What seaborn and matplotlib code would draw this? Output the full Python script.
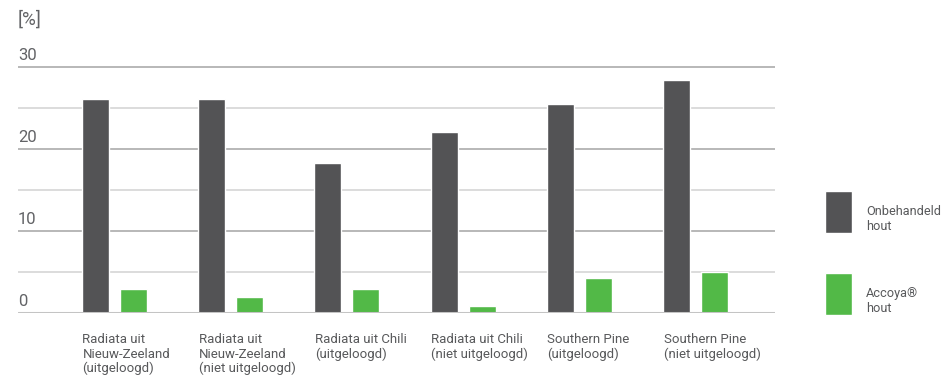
import matplotlib
matplotlib.use("Agg")
import matplotlib.pyplot as plt
from matplotlib.transforms import ScaledTranslation, blended_transform_factory
import seaborn as sns
import pandas as pd

categories = [
    "Radiata uit\nNieuw-Zeeland\n(uitgeloogd)",
    "Radiata uit\nNieuw-Zeeland\n(niet uitgeloogd)",
    "Radiata uit Chili\n(uitgeloogd)",
    "Radiata uit Chili\n(niet uitgeloogd)",
    "Southern Pine\n(uitgeloogd)",
    "Southern Pine\n(niet uitgeloogd)",
]
series_names = ["Onbehandeld\nhout", "Accoya®\nhout"]
onbehandeld = [26.1, 26.1, 18.3, 22.1, 25.5, 28.4]
accoya = [3.0, 2.0, 3.0, 0.9, 4.3, 5.0]
y_ticks = [0, 10, 20, 30]
y_unit = "[%]"

df = pd.DataFrame({
    "houtsoort": categories * 2,
    "waarde": onbehandeld + accoya,
    "behandeling": [series_names[0]] * len(categories) + [series_names[1]] * len(categories),
})

sns.set_theme(style="white")
plt.rcParams["font.family"] = ["Roboto", "DejaVu Sans"]

text_color = "#58595b"
dark = "#535355"
green = "#52b947"

fig = plt.figure(figsize=(9.47, 3.82), dpi=100)
W, H = 947, 382
ax = fig.add_axes([18 / W, 1 - 313.3 / H, (775 - 18) / W, 31 * 8.21 / H])

sns.barplot(data=df, x="houtsoort", y="waarde", hue="behandeling",
            palette=[dark, green], saturation=1, width=0.654, gap=0.29,
            ax=ax, zorder=3)

ax.set_xlim(-0.83, 5.684)
ax.set_ylim(0, 31)
for s in ax.spines.values():
    s.set_visible(False)

# horizontal guide lines: strong at every 10, light in between
for v in [5, 15, 25]:
    ax.axhline(v, color="#d9d9d9", lw=1.3, zorder=1)
for v in [10, 20, 30]:
    ax.axhline(v, color="#b2b2b2", lw=1.3, zorder=1)
ax.axhline(0, color="#c4c4c4", lw=2.2, zorder=4)

ax.set_yticks([])
ax.set_xlabel("")
ax.set_ylabel("")
tr = blended_transform_factory(ax.transAxes, ax.transData)
for v in y_ticks:
    ax.text(0, v, str(v), transform=tr + ScaledTranslation(0, 4 / 100, fig.dpi_scale_trans),
            ha="left", va="bottom", fontsize=12, color="#626366")
fig.text(18 / W, 1 - 20 / H, y_unit, ha="left", va="center", fontsize=13.5, color="#626366")

ax.tick_params(axis="x", length=0, pad=14.5, labelsize=9.5, labelcolor=text_color)
shift = ScaledTranslation(-32 / 100, 0, fig.dpi_scale_trans)
for lbl in ax.get_xticklabels():
    lbl.set_ha("left")
    lbl.set_va("top")
    lbl.set_linespacing(1.12)
    lbl.set_transform(lbl.get_transform() + shift)

handles, labels = ax.get_legend_handles_labels()
leg_pt = 9.2
fs = leg_pt * 100 / 72
hh = (42 / fs - 0.245) / 0.65
leg = ax.legend(handles, labels, loc="upper left", bbox_to_anchor=(825 / W, 1 - 191 / H),
                bbox_transform=fig.transFigure, frameon=False, fontsize=leg_pt,
                handlelength=27 / fs, handleheight=hh, handletextpad=14 / fs,
                labelspacing=40 / fs, borderpad=0, borderaxespad=0,
                labelcolor=text_color)
for t in leg.get_texts():
    t.set_linespacing(1.2)
# labels sit flush with the bottom of their colour swatch
for col in leg._legend_handle_box.get_children():
    for row in col.get_children():
        row.align = "bottom"

fig.savefig("out.png", dpi=100)
